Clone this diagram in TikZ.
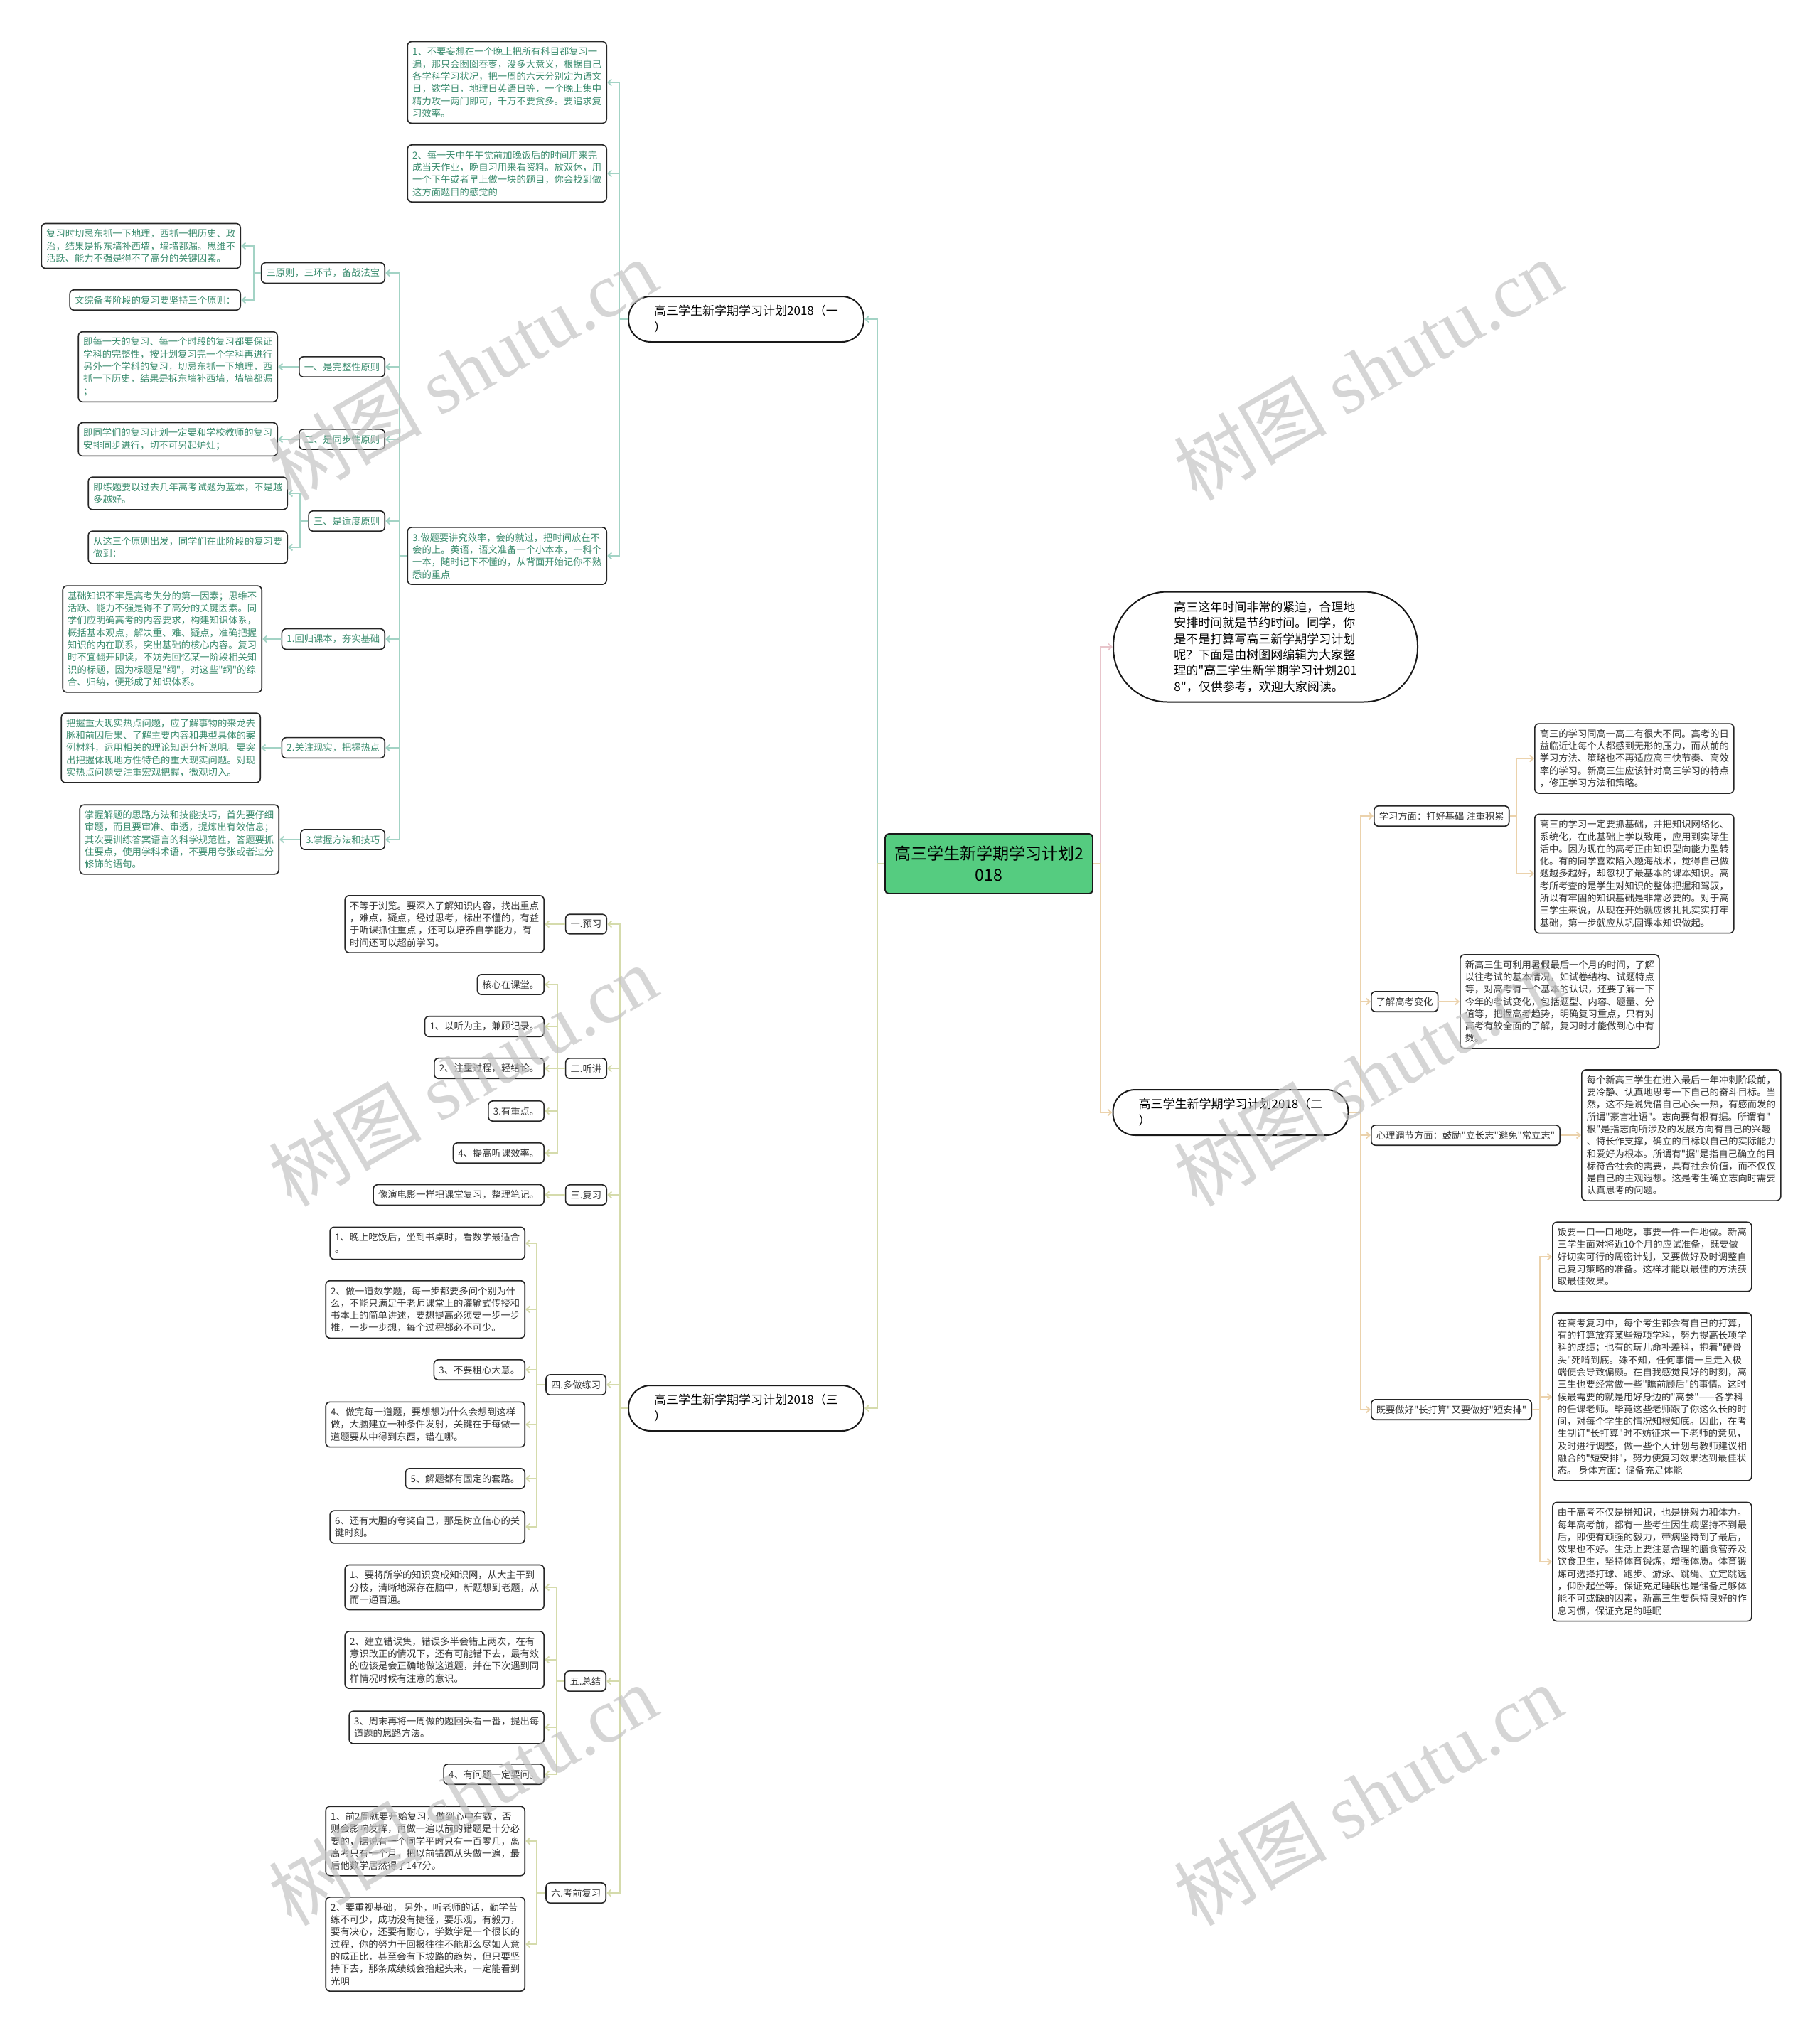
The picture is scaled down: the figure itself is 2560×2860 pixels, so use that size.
\documentclass[tikz,border=0pt]{standalone}
\usepackage{fontspec}
\setmainfont{Noto Sans CJK SC}
\newfontfamily\cjkfont{Noto Sans CJK SC}
\newfontfamily\wmserif{Liberation Serif}
\usetikzlibrary{arrows.meta}
\definecolor{inkteal}{HTML}{3A8C6E}
\definecolor{inkdark}{HTML}{333333}
\definecolor{lineteal}{HTML}{A3D3C5}
\definecolor{lineolive}{HTML}{D5DBAC}
\definecolor{linetan}{HTML}{EBD2AC}
\definecolor{linepink}{HTML}{E8C5CB}
\definecolor{rootgreen}{HTML}{55CC80}
\definecolor{wmgray}{HTML}{C4C4C4}

\tikzset{
  box/.style={draw=black!85, line width=1.6pt, rounded corners=6pt, fill=white, align=left,
    inner xsep=7pt, inner ysep=8pt, font=\cjkfont\fontsize{13.3}{17.3}\selectfont},
  tealbox/.style={box, text=inkteal},
  darkbox/.style={box, text=inkdark},
  branch/.style={draw=black!90, line width=2pt, rounded corners=31pt, fill=white, align=left,
    minimum width=331pt, minimum height=64pt, font=\cjkfont\fontsize{17}{23}\selectfont},
  intro/.style={draw=black!90, line width=2pt, rounded corners=76pt, fill=white, align=left,
    minimum width=428pt, minimum height=155pt, font=\cjkfont\fontsize{17}{22.3}\selectfont},
  root/.style={draw=black!90, line width=1.8pt, rounded corners=5pt, fill=rootgreen, align=center,
    minimum width=292pt, minimum height=84pt, font=\cjkfont\fontsize{23}{30}\selectfont},
  link/.style={line width=1.8pt, -{Straight Barb[length=5pt,width=9pt]}},
  watermark/.style={rotate=30, text=wmgray, opacity=0.7, font=\cjkfont\fontsize{108}{108}\selectfont}
}

\begin{document}
\begin{tikzpicture}[x=1pt, y=-1pt]
  \useasboundingbox (0,0) rectangle (2560,2860);
  \fill[white] (0,0) rectangle (2560,2860);

  % Centre
  \node[root] (root) at (1391,1215) {高三学生新学期学习计划2\\018};

  % Hlavni vetve
  \node[branch] (b1) at (1049.5,449) {高三学生新学期学习计划2018（一\\）};
  \node[branch] (b3) at (1049.5,1981) {高三学生新学期学习计划2018（三\\）};
  \node[branch] (b2) at (1731,1565) {高三学生新学期学习计划2018（二\\）};
  \node[intro] (intro) at (1780,910) {高三这年时间非常的紧迫，合理地\\安排时间就是节约时间。同学，你\\是不是打算写高三新学期学习计划\\呢？下面是由树图网编辑为大家整\\理的"高三学生新学期学习计划201\\8"，仅供参考，欢迎大家阅读。};

  % Vetev 1
  \node[tealbox, anchor=east] (t1) at (854,116) {1、不要妄想在一个晚上把所有科目都复习一\\遍，那只会囫囵吞枣，没多大意义，根据自己\\各学科学习状况，把一周的六天分别定为语文\\日，数学日，地理日英语日等，一个晚上集中\\精力攻一两门即可，千万不要贪多。要追求复\\习效率。};
  \node[tealbox, anchor=east] (t2) at (854,244) {2、每一天中午午觉前加晚饭后的时间用来完\\成当天作业，晚自习用来看资料。放双休，用\\一个下午或者早上做一块的题目，你会找到做\\这方面题目的感觉的};
  \node[tealbox, anchor=east] (t7) at (854,782) {3.做题要讲究效率，会的就过，把时间放在不\\会的上。英语，语文准备一个小本本，一科个\\一本，随时记下不懂的，从背面开始记你不熟\\悉的重点};
  \node[tealbox, anchor=east] (t3) at (542,384) {三原则，三环节，备战法宝};
  \node[tealbox, anchor=east] (t4) at (542,516) {一、是完整性原则};
  \node[tealbox, anchor=east] (t5) at (542,618) {二、是同步性原则};
  \node[tealbox, anchor=east] (t6) at (542,733) {三、是适度原则};
  \node[tealbox, anchor=east] (t8) at (542,899) {1.回归课本，夯实基础};
  \node[tealbox, anchor=east] (t9) at (542,1052) {2.关注现实，把握热点};
  \node[tealbox, anchor=east] (t10) at (542,1181) {3.掌握方法和技巧};
  \node[tealbox, anchor=east] (l1) at (339,346) {复习时切忌东抓一下地理，西抓一把历史、政\\治，结果是拆东墙补西墙，墙墙都漏。思维不\\活跃、能力不强是得不了高分的关键因素。};
  \node[tealbox, anchor=east] (l2) at (339,422) {文综备考阶段的复习要坚持三个原则：};
  \node[tealbox, anchor=east] (l3) at (391,516) {即每一天的复习、每一个时段的复习都要保证\\学科的完整性，按计划复习完一个学科再进行\\另外一个学科的复习，切忌东抓一下地理，西\\抓一下历史，结果是拆东墙补西墙，墙墙都漏\\；};
  \node[tealbox, anchor=east] (l4) at (391,618) {即同学们的复习计划一定要和学校教师的复习\\安排同步进行，切不可另起炉灶；};
  \node[tealbox, anchor=east] (l5) at (405,694) {即练题要以过去几年高考试题为蓝本，不是越\\多越好。};
  \node[tealbox, anchor=east] (l6) at (405,770) {从这三个原则出发，同学们在此阶段的复习要\\做到：};
  \node[tealbox, anchor=east] (l7) at (369,899) {基础知识不牢是高考失分的第一因素；思维不\\活跃、能力不强是得不了高分的关键因素。同\\学们应明确高考的内容要求，构建知识体系，\\概括基本观点，解决重、难、疑点，准确把握\\知识的内在联系，突出基础的核心内容。复习\\时不宜翻开即读，不妨先回忆某一阶段相关知\\识的标题，因为标题是"纲"，对这些"纲"的综\\合、归纳，便形成了知识体系。};
  \node[tealbox, anchor=east] (l8) at (367,1052) {把握重大现实热点问题，应了解事物的来龙去\\脉和前因后果、了解主要内容和典型具体的案\\例材料，运用相关的理论知识分析说明。要突\\出把握体现地方性特色的重大现实问题。对现\\实热点问题要注重宏观把握，微观切入。};
  \node[tealbox, anchor=east] (l9) at (393,1181) {掌握解题的思路方法和技能技巧，首先要仔细\\审题，而且要审准、审透，提炼出有效信息；\\其次要训练答案语言的科学规范性，答题要抓\\住要点，使用学科术语，不要用夸张或者过分\\修饰的语句。};

  % Vetev 3
  \node[darkbox, anchor=east] (yx) at (854,1300) {一.预习};
  \node[darkbox, anchor=east] (tj) at (854,1503) {二.听讲};
  \node[darkbox, anchor=east] (fx) at (854,1681) {三.复习};
  \node[darkbox, anchor=east] (dz) at (853,1948) {四.多做练习};
  \node[darkbox, anchor=east] (zj) at (853,2365) {五.总结};
  \node[darkbox, anchor=east] (kq) at (853,2663) {六.考前复习};
  \node[darkbox, anchor=east] (y1) at (766,1300) {不等于浏览。要深入了解知识内容，找出重点\\，难点，疑点，经过思考，标出不懂的，有益\\于听课抓住重点 ，还可以培养自学能力，有\\时间还可以超前学习。};
  \node[darkbox, anchor=east] (z1) at (766,1385) {核心在课堂。};
  \node[darkbox, anchor=east] (z2) at (766,1444) {1、以听为主，兼顾记录。};
  \node[darkbox, anchor=east] (z3) at (766,1503) {2、注重过程，轻结论。};
  \node[darkbox, anchor=east] (z4) at (766,1563) {3.有重点。};
  \node[darkbox, anchor=east] (z5) at (766,1622) {4、提高听课效率。};
  \node[darkbox, anchor=east] (f1) at (766,1681) {像演电影一样把课堂复习，整理笔记。};
  \node[darkbox, anchor=east] (p1) at (739,1749) {1、晚上吃饭后，坐到书桌时，看数学最适合\\。};
  \node[darkbox, anchor=east] (p2) at (739,1842) {2、做一道数学题，每一步都要多问个别为什\\么，不能只满足于老师课堂上的灌输式传授和\\书本上的简单讲述，要想提高必须要一步一步\\推，一步一步想，每个过程都必不可少。};
  \node[darkbox, anchor=east] (p3) at (739,1927) {3、不要粗心大意。};
  \node[darkbox, anchor=east] (p4) at (739,2004) {4、做完每一道题，要想想为什么会想到这样\\做，大脑建立一种条件发射，关键在于每做一\\道题要从中得到东西，错在哪。};
  \node[darkbox, anchor=east] (p5) at (739,2080) {5、解题都有固定的套路。};
  \node[darkbox, anchor=east] (p6) at (739,2148) {6、还有大胆的夸奖自己，那是树立信心的关\\键时刻。};
  \node[darkbox, anchor=east] (s1) at (766,2233) {1、要将所学的知识变成知识网，从大主干到\\分枝，清晰地深存在脑中，新题想到老题，从\\而一通百通。};
  \node[darkbox, anchor=east] (s2) at (766,2335) {2、建立错误集，错误多半会错上两次，在有\\意识改正的情况下，还有可能错下去，最有效\\的应该是会正确地做这道题，并在下次遇到同\\样情况时候有注意的意识。};
  \node[darkbox, anchor=east] (s3) at (766,2430) {3、周末再将一周做的题回头看一番，提出每\\道题的思路方法。};
  \node[darkbox, anchor=east] (s4) at (766,2496) {4、有问题一定要问。};
  \node[darkbox, anchor=east] (k1) at (739,2590) {1、前2周就要开始复习，做到心中有数，否\\则会影响发挥，再做一遍以前的错题是十分必\\要的，据说有一个同学平时只有一百零几，离\\高考只有一个月，把以前错题从头做一遍，最\\后他数学居然得了147分。};
  \node[darkbox, anchor=east] (k2) at (739,2735) {2、要重视基础， 另外，听老师的话，勤学苦\\练不可少，成功没有捷径，要乐观，有毅力，\\要有决心，还要有耐心，学数学是一个很长的\\过程，你的努力于回报往往不能那么尽如人意\\的成正比，甚至会有下坡路的趋势，但只要坚\\持下去，那条成绩线会抬起头来，一定能看到\\光明};

  % Vetev 2
  \node[darkbox, anchor=west] (r1) at (1932,1148) {学习方面：打好基础 注重积累};
  \node[darkbox, anchor=west] (r2) at (1928,1409) {了解高考变化};
  \node[darkbox, anchor=west] (r3) at (1928,1597) {心理调节方面：鼓励"立长志"避免"常立志"};
  \node[darkbox, anchor=west] (r4) at (1928,1983) {既要做好"长打算"又要做好"短安排"};
  \node[darkbox, anchor=west] (r1a) at (2158,1067) {高三的学习同高一高二有很大不同。高考的日\\益临近让每个人都感到无形的压力，而从前的\\学习方法、策略也不再适应高三快节奏、高效\\率的学习。新高三生应该针对高三学习的特点\\，修正学习方法和策略。};
  \node[darkbox, anchor=west] (r1b) at (2158,1229) {高三的学习一定要抓基础，并把知识网络化、\\系统化，在此基础上学以致用，应用到实际生\\活中。因为现在的高考正由知识型向能力型转\\化。有的同学喜欢陷入题海战术，觉得自己做\\题越多越好，却忽视了最基本的课本知识。高\\考所考查的是学生对知识的整体把握和驾驭，\\所以有牢固的知识基础是非常必要的。对于高\\三学生来说，从现在开始就应该扎扎实实打牢\\基础，第一步就应从巩固课本知识做起。};
  \node[darkbox, anchor=west] (r2a) at (2053,1409) {新高三生可利用暑假最后一个月的时间，了解\\以往考试的基本情况，如试卷结构、试题特点\\等，对高考有一个基本的认识，还要了解一下\\今年的考试变化，包括题型、内容、题量、分\\值等，把握高考趋势，明确复习重点，只有对\\高考有较全面的了解，复习时才能做到心中有\\数。};
  \node[darkbox, anchor=west] (r3a) at (2224,1597) {每个新高三学生在进入最后一年冲刺阶段前，\\要冷静、认真地思考一下自己的奋斗目标。当\\然，这不是说凭借自己心头一热，有感而发的\\所谓"豪言壮语"。志向要有根有据。所谓有"\\根"是指志向所涉及的发展方向有自己的兴趣\\、特长作支撑，确立的目标以自己的实际能力\\和爱好为根本。所谓有"据"是指自己确立的目\\标符合社会的需要，具有社会价值，而不仅仅\\是自己的主观遐想。这是考生确立志向时需要\\认真思考的问题。};
  \node[darkbox, anchor=west] (r4a) at (2183,1768) {饭要一口一口地吃，事要一件一件地做。新高\\三学生面对将近10个月的应试准备，既要做\\好切实可行的周密计划，又要做好及时调整自\\己复习策略的准备。这样才能以最佳的方法获\\取最佳效果。};
  \node[darkbox, anchor=west] (r4b) at (2183,1965) {在高考复习中，每个考生都会有自己的打算，\\有的打算放弃某些短项学科，努力提高长项学\\科的成绩；也有的玩儿命补差科，抱着"硬骨\\头"死啃到底。殊不知，任何事情一旦走入极\\端便会导致偏颇。在自我感觉良好的时刻，高\\三生也要经常做一些"瞻前顾后"的事情。这时\\候最需要的就是用好身边的"高参"——各学科\\的任课老师。毕竟这些老师跟了你这么长的时\\间，对每个学生的情况知根知底。因此，在考\\生制订"长打算"时不妨征求一下老师的意见，\\及时进行调整，做一些个人计划与教师建议相\\融合的"短安排"，努力使复习效果达到最佳状\\态。 身体方面：储备充足体能};
  \node[darkbox, anchor=west] (r4c) at (2183,2197) {由于高考不仅是拼知识，也是拼毅力和体力。\\每年高考前，都有一些考生因生病坚持不到最\\后，即使有顽强的毅力，带病坚持到了最后，\\效果也不好。生活上要注意合理的膳食营养及\\饮食卫生，坚持体育锻炼，增强体质。体育锻\\炼可选择打球、跑步、游泳、跳绳、立定跳远\\，仰卧起坐等。保证充足睡眠也是储备足够体\\能不可或缺的因素，新高三生要保持良好的作\\息习惯，保证充足的睡眠};

  % Spojnice
  \draw[link, lineteal] (root.west) -- ++(-10,0) |- (b1.east);
  \draw[link, lineolive] (root.west) -- ++(-10,0) |- (b3.east);
  \draw[link, linepink] (root.east) -- ++(10,0) |- (intro.west);
  \draw[link, linetan] (root.east) -- ++(10,0) |- (b2.west);

  \foreach \n in {t1,t2,t7}
    \draw[link, lineteal] (b1.west) -- ++(-12,0) |- (\n.east);
  \foreach \n in {t3,t4,t5,t6,t8,t9,t10}
    \draw[link, lineteal] (t7.west) -- ++(-11,0) |- (\n.east);
  \foreach \n in {l1,l2}
    \draw[link, lineteal] (t3.west) -- ++(-10,0) |- (\n.east);
  \foreach \n in {l5,l6}
    \draw[link, lineteal] (t6.west) -- ++(-11,0) |- (\n.east);
  \draw[link, lineteal] (t4.west) -- (l3.east);
  \draw[link, lineteal] (t5.west) -- (l4.east);
  \draw[link, lineteal] (t8.west) -- (l7.east);
  \draw[link, lineteal] (t9.west) -- (l8.east);
  \draw[link, lineteal] (t10.west) -- (l9.east);

  \foreach \n in {yx,tj,fx,dz,zj,kq}
    \draw[link, lineolive] (b3.west) -- ++(-11,0) |- (\n.east);
  \draw[link, lineolive] (yx.west) -- (y1.east);
  \draw[link, lineolive] (fx.west) -- (f1.east);
  \foreach \n in {z1,z2,z3,z4,z5}
    \draw[link, lineolive] (tj.west) -- ++(-11,0) |- (\n.east);
  \foreach \n in {p1,p2,p3,p4,p5,p6}
    \draw[link, lineolive] (dz.west) -- ++(-12,0) |- (\n.east);
  \foreach \n in {s1,s2,s3,s4}
    \draw[link, lineolive] (zj.west) -- ++(-11,0) |- (\n.east);
  \foreach \n in {k1,k2}
    \draw[link, lineolive] (kq.west) -- ++(-12,0) |- (\n.east);

  \foreach \n in {r1,r2,r3,r4}
    \draw[link, linetan] (b2.east) -- ++(16,0) |- (\n.west);
  \foreach \n in {r1a,r1b}
    \draw[link, linetan] (r1.east) -- ++(10,0) |- (\n.west);
  \draw[link, linetan] (r2.east) -- (r2a.west);
  \draw[link, linetan] (r3.east) -- (r3a.west);
  \foreach \n in {r4a,r4b,r4c}
    \draw[link, linetan] (r4.east) -- ++(11,0) |- (\n.west);

  % Vodoznak
  \foreach \wx/\wy in {651/520, 1924/520, 651/1513, 1924/1513, 651/2525, 1924/2525}
    \node[watermark] at (\wx,\wy) {树图 {\wmserif shutu.cn}};
\end{tikzpicture}
\end{document}
